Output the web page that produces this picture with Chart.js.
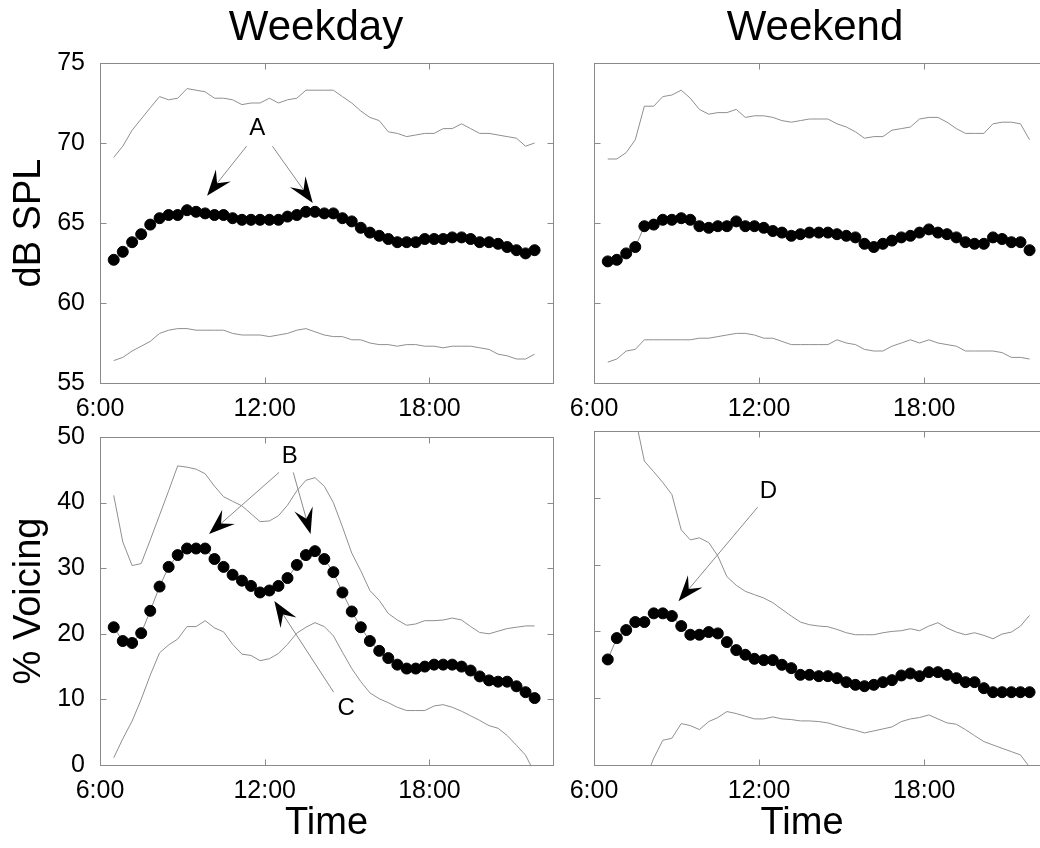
<!DOCTYPE html>
<html>
<head>
<meta charset="utf-8">
<script src="https://cdn.jsdelivr.net/npm/chart.js@4.4.1/dist/chart.umd.min.js"></script>
<style>
  html, body { margin: 0; padding: 0; background: #fff; overflow: hidden; }
  #wrap { position: relative; width: 1040px; height: 848px; overflow: hidden; }
  canvas { position: absolute; }
</style>
</head>
<body>
<div id="wrap">
  <canvas id="wdDb" width="640" height="420" style="left:0px;top:0px"></canvas>
  <canvas id="weDb" width="540" height="420" style="left:520px;top:0px"></canvas>
  <canvas id="wdVo" width="570" height="428" style="left:0px;top:420px"></canvas>
  <canvas id="weVo" width="540" height="428" style="left:520px;top:420px"></canvas>
</div>
<script>
// sample times, hours of the day (20 min apart)
const times = [6.5, 6.83, 7.17, 7.5, 7.83, 8.17, 8.5, 8.83, 9.17, 9.5, 9.83, 10.17, 10.5, 10.83, 11.17, 11.5,
  11.83, 12.17, 12.5, 12.83, 13.17, 13.5, 13.83, 14.17, 14.5, 14.83, 15.17, 15.5, 15.83, 16.17, 16.5, 16.83,
  17.17, 17.5, 17.83, 18.17, 18.5, 18.83, 19.17, 19.5, 19.83, 20.17, 20.5, 20.83, 21.17, 21.5, 21.83];
const timeTicks = [6, 12, 18];
const timeLabels = ['6:00', '12:00', '18:00'];
const dbTicks = [55, 60, 65, 70, 75];
const voiceTicks = [0, 10, 20, 30, 40, 50];

// weekday, dB SPL
const wdDbMean = [62.7, 63.2, 63.8, 64.3, 64.9, 65.3, 65.5, 65.5, 65.8, 65.7, 65.6, 65.5, 65.5, 65.3, 65.2, 65.2,
  65.2, 65.2, 65.2, 65.4, 65.5, 65.7, 65.7, 65.6, 65.6, 65.3, 65.1, 64.7, 64.4, 64.2, 64.0, 63.8,
  63.8, 63.8, 64.0, 64.0, 64.0, 64.1, 64.1, 64.0, 63.8, 63.8, 63.7, 63.5, 63.3, 63.1, 63.3];
const wdDbHigh = [69.1, 69.8, 70.8, 71.5, 72.2, 72.9, 72.7, 72.8, 73.4, 73.3, 73.2, 72.8, 72.8, 72.7, 72.4, 72.5,
  72.5, 72.8, 72.5, 72.7, 72.8, 73.3, 73.3, 73.3, 73.3, 72.9, 72.5, 72.0, 71.6, 71.4, 70.7, 70.6,
  70.4, 70.5, 70.6, 70.6, 70.9, 70.9, 71.2, 70.9, 70.6, 70.6, 70.5, 70.4, 70.3, 69.8, 70.0];
const wdDbLow = [56.4, 56.6, 57.0, 57.3, 57.6, 58.1, 58.3, 58.4, 58.4, 58.3, 58.3, 58.3, 58.3, 58.1, 58.0, 58.0,
  58.0, 57.9, 58.0, 58.1, 58.3, 58.4, 58.2, 58.0, 57.9, 57.9, 57.7, 57.7, 57.5, 57.4, 57.4, 57.3,
  57.4, 57.4, 57.3, 57.3, 57.2, 57.3, 57.3, 57.3, 57.2, 57.1, 56.8, 56.7, 56.5, 56.5, 56.8];

// weekend, dB SPL
const weDbMean = [62.6, 62.7, 63.1, 63.5, 64.8, 64.9, 65.2, 65.2, 65.3, 65.2, 64.8, 64.7, 64.8, 64.8, 65.1, 64.8,
  64.8, 64.7, 64.5, 64.4, 64.2, 64.3, 64.4, 64.4, 64.4, 64.3, 64.2, 64.1, 63.7, 63.5, 63.7, 63.9,
  64.1, 64.2, 64.4, 64.6, 64.4, 64.3, 64.1, 63.8, 63.7, 63.7, 64.1, 64.0, 63.8, 63.8, 63.3];
const weDbHigh = [69.0, 69.0, 69.4, 70.2, 72.3, 72.3, 72.9, 73.0, 73.3, 72.8, 72.1, 71.8, 71.9, 71.9, 72.1, 71.6,
  71.7, 71.7, 71.6, 71.4, 71.3, 71.4, 71.5, 71.5, 71.5, 71.2, 71.0, 70.7, 70.3, 70.4, 70.4, 70.8,
  70.9, 71.0, 71.5, 71.6, 71.6, 71.3, 70.9, 70.6, 70.6, 70.6, 71.2, 71.3, 71.3, 71.2, 70.2];
const weDbLow = [56.3, 56.5, 57.0, 57.1, 57.7, 57.7, 57.7, 57.7, 57.7, 57.7, 57.8, 57.8, 57.9, 58.0, 58.1, 58.1,
  58.0, 57.8, 57.8, 57.6, 57.4, 57.4, 57.4, 57.4, 57.4, 57.7, 57.5, 57.4, 57.1, 57.0, 57.0, 57.3,
  57.5, 57.7, 57.5, 57.7, 57.5, 57.4, 57.3, 57.0, 57.0, 57.0, 57.0, 56.9, 56.6, 56.6, 56.5];

// weekday, % voicing
const wdVoMean = [21.0, 18.9, 18.6, 20.1, 23.5, 27.2, 30.2, 32.0, 33.0, 33.0, 33.0, 31.4, 30.2, 29.0, 28.1, 27.3,
  26.3, 26.6, 27.3, 28.5, 30.5, 32.0, 32.6, 31.4, 29.4, 26.3, 23.4, 21.0, 18.9, 17.4, 16.3, 15.3,
  14.7, 14.7, 15.0, 15.3, 15.3, 15.3, 15.0, 14.4, 13.5, 12.9, 12.7, 12.7, 12.0, 11.1, 10.2];
const wdVoHigh = [41.1, 34.0, 30.4, 30.7, 34.3, 38.1, 41.8, 45.6, 45.4, 45.1, 44.4, 42.5, 40.9, 40.2, 39.5, 38.3,
  37.1, 37.2, 38.0, 39.6, 41.8, 43.4, 43.8, 42.5, 40.0, 36.3, 32.3, 29.6, 26.6, 25.1, 23.1, 22.1,
  21.3, 21.5, 22.0, 22.0, 22.1, 22.4, 22.1, 21.1, 20.2, 20.0, 20.4, 20.8, 21.0, 21.2, 21.2];
const wdVoLow = [1.1, 4.0, 6.7, 10.0, 13.7, 17.1, 18.3, 19.2, 21.1, 21.1, 22.0, 20.9, 20.3, 18.4, 16.9, 16.7,
  15.9, 16.2, 17.0, 18.4, 20.1, 21.0, 21.7, 21.1, 19.7, 17.2, 14.7, 12.7, 11.0, 10.1, 9.5, 8.8,
  8.3, 8.3, 8.3, 9.0, 9.2, 8.8, 8.2, 7.5, 6.8, 6.0, 5.6, 4.5, 3.0, 1.5, -1.2];

// weekend, % voicing
const weVoMean = [15.8, 19.0, 20.2, 21.4, 21.4, 22.7, 22.7, 22.3, 20.8, 19.5, 19.5, 19.9, 19.7, 18.4, 17.2, 16.5,
  15.9, 15.7, 15.7, 15.0, 14.5, 13.5, 13.5, 13.3, 13.3, 13.0, 12.4, 12.0, 11.8, 12.0, 12.4, 12.7,
  13.4, 13.7, 13.3, 13.9, 13.9, 13.5, 13.0, 12.4, 12.4, 11.5, 10.9, 10.9, 10.9, 10.9, 10.9];
const weVoHigh = [null, null, null, 52.0, 45.5, 43.9, 42.3, 40.5, 35.2, 33.7, 34.0, 33.3, 31.3, 28.2, 26.9, 26.0,
  25.5, 25.0, 24.3, 23.3, 22.3, 21.4, 21.0, 20.8, 20.7, 20.3, 19.8, 19.5, 19.5, 19.5, 19.8, 20.0,
  20.1, 20.4, 20.1, 20.8, 21.3, 20.5, 19.9, 19.5, 19.8, 19.4, 18.9, 19.6, 19.9, 20.8, 22.4];
const weVoLow = [null, null, null, null, -2.5, 1.0, 3.7, 4.0, 6.2, 5.9, 5.3, 6.5, 7.1, 8.0, 7.7, 7.3,
  6.9, 6.9, 7.2, 6.9, 6.8, 6.6, 6.6, 6.5, 6.3, 5.9, 5.5, 5.2, 4.8, 5.1, 5.4, 5.7,
  6.5, 6.9, 7.1, 7.5, 6.9, 6.3, 6.1, 5.3, 4.4, 3.5, 3.0, 2.5, 2.0, 1.5, -0.3];

// letter call-outs, in data units: [label position], arrows [from, tip]
const notesWdDb = [{ text: 'A', at: [11.73, 70.9], arrows: [[[11.34, 69.8], [9.9, 66.7]], [[12.28, 69.8], [13.75, 66.25]]] }];
const notesWdVo = [
  { text: 'B', at: [12.91, 47.1], arrows: [[[12.52, 44.6], [9.97, 35.2]], [[13.04, 44.6], [13.67, 35.2]]] },
  { text: 'C', at: [14.97, 8.7], arrows: [[[14.51, 11.1], [12.35, 25.0]]] }
];
const notesWeVo = [{ text: 'D', at: [12.34, 41.0], arrows: [[[11.95, 38.6], [9.07, 24.5]]] }];

const FONT = "'Liberation Sans', Arial, Helvetica, sans-serif";
Chart.defaults.font.family = FONT;
Chart.defaults.color = '#000';

function pts(vals) {
  return times.map((t, i) => ({ x: t, y: vals[i] }));
}

// box round the plot plus short ticks pointing inward on all four sides
const framePlugin = {
  id: 'frame',
  beforeDatasetsDraw(chart) {
    const { ctx, chartArea: a } = chart;
    const xs = chart.scales.x, ys = chart.scales.y;
    const L = Math.round(a.left) + 0.5, R = Math.round(a.right) + 0.5;
    const T = Math.round(a.top) + 0.5, B = Math.round(a.bottom) + 0.5;
    ctx.save();
    ctx.strokeStyle = '#8a8a8a';
    ctx.lineWidth = 1;
    ctx.strokeRect(L, T, R - L, B - T);
    ctx.beginPath();
    xs.ticks.forEach(t => {
      const p = Math.round(xs.getPixelForValue(t.value)) + 0.5;
      ctx.moveTo(p, B); ctx.lineTo(p, B - 6);
      ctx.moveTo(p, T); ctx.lineTo(p, T + 6);
    });
    ys.ticks.forEach(t => {
      const p = Math.round(ys.getPixelForValue(t.value)) + 0.5;
      ctx.moveTo(L, p); ctx.lineTo(L + 6, p);
      ctx.moveTo(R, p); ctx.lineTo(R - 6, p);
    });
    ctx.stroke();
    ctx.restore();
  }
};

function drawArrow(ctx, x0, y0, x1, y1) {
  const dx = x1 - x0, dy = y1 - y0;
  const len = Math.hypot(dx, dy);
  const ux = dx / len, uy = dy / len, nx = -uy, ny = ux;
  const L = 26, W = 9.5, N = 10;
  ctx.strokeStyle = '#8a8a8a';
  ctx.lineWidth = 1;
  ctx.beginPath();
  ctx.moveTo(x0, y0);
  ctx.lineTo(x1 - ux * (L - N), y1 - uy * (L - N));
  ctx.stroke();
  ctx.fillStyle = '#000';
  ctx.beginPath();
  ctx.moveTo(x1, y1);
  ctx.lineTo(x1 - ux * L + nx * W, y1 - uy * L + ny * W);
  ctx.lineTo(x1 - ux * (L - N), y1 - uy * (L - N));
  ctx.lineTo(x1 - ux * L - nx * W, y1 - uy * L - ny * W);
  ctx.closePath();
  ctx.fill();
}

function notesPlugin(items) {
  return {
    id: 'notes',
    afterDatasetsDraw(chart) {
      const { ctx } = chart;
      const xs = chart.scales.x, ys = chart.scales.y;
      ctx.save();
      items.forEach(n => {
        n.arrows.forEach(([from, tip]) => {
          drawArrow(ctx, xs.getPixelForValue(from[0]), ys.getPixelForValue(from[1]),
            xs.getPixelForValue(tip[0]), ys.getPixelForValue(tip[1]));
        });
        ctx.fillStyle = '#000';
        ctx.font = '24px ' + FONT;
        ctx.textAlign = 'center';
        ctx.textBaseline = 'middle';
        ctx.fillText(n.text, xs.getPixelForValue(n.at[0]), ys.getPixelForValue(n.at[1]));
      });
      ctx.restore();
    }
  };
}

const bigFont = { size: 38, lineHeight: 1, weight: 'normal' };
const headFont = { size: 42, lineHeight: 1, weight: 'normal' };

function makePanel(id, p) {
  const scales = {
    x: {
      type: 'linear', min: 6, max: 22.5,
      grid: { display: false }, border: { display: false },
      afterBuildTicks: s => { s.ticks = timeTicks.map(v => ({ value: v })); },
      ticks: {
        autoSkip: false, maxRotation: 0, padding: 3, font: { size: 25, lineHeight: 1.2 },
        callback: v => timeLabels[timeTicks.indexOf(v)]
      },
      title: p.xTitle ? { display: true, text: p.xTitle, font: bigFont, padding: { top: 0, bottom: 5 } } : { display: false },
      afterFit: s => { s.height = p.xh; }
    },
    y: {
      type: 'linear', min: p.yTicks[0], max: p.yTicks[p.yTicks.length - 1],
      grid: { display: false }, border: { display: false },
      afterBuildTicks: s => { s.ticks = p.yTicks.map(v => ({ value: v })); },
      ticks: { display: !!p.yTitle, padding: 7, font: { size: 25, lineHeight: 0.8 }, callback: v => String(v) },
      title: p.yTitle ? { display: true, text: p.yTitle, font: bigFont, padding: { top: 11, bottom: 0 } } : { display: false },
      afterFit: s => { s.width = p.yw; }
    }
  };
  if (p.spacer) {
    // empty right-hand box so the panel heading sits where the original has it
    scales.sp = {
      type: 'linear', position: 'right', grid: { display: false }, border: { display: false },
      ticks: { display: false }, afterFit: s => { s.width = p.spacer; }
    };
  }
  if (p.timeBelow) {
    scales.tt = {
      type: 'linear', position: 'bottom', fullSize: true, weight: 10,
      grid: { display: false }, border: { display: false }, ticks: { display: false },
      title: { display: true, text: p.timeBelow, font: bigFont, padding: { top: 0, bottom: 5 } },
      afterFit: s => { s.height = 40; }
    };
  }
  return new Chart(document.getElementById(id), {
    type: 'line',
    data: {
      datasets: [
        { data: pts(p.mean), borderColor: '#8a8a8a', borderWidth: 1, pointRadius: 5.5,
          pointBackgroundColor: '#000', pointBorderColor: '#000', pointBorderWidth: 1 },
        { data: pts(p.high), borderColor: '#8f8f8f', borderWidth: 1, pointRadius: 0 },
        { data: pts(p.low), borderColor: '#8f8f8f', borderWidth: 1, pointRadius: 0 }
      ]
    },
    options: {
      responsive: false,
      animation: false,
      devicePixelRatio: 1,
      events: [],
      layout: { padding: p.pad },
      scales,
      plugins: {
        legend: { display: false },
        tooltip: { enabled: false },
        title: p.title ? { display: true, text: p.title, fullSize: true, font: headFont, color: '#000',
          padding: { top: 7, bottom: 14 } } : { display: false }
      }
    },
    plugins: [framePlugin, notesPlugin(p.notes || [])]
  });
}

makePanel('wdDb', {
  mean: wdDbMean, high: wdDbHigh, low: wdDbLow, yTicks: dbTicks,
  title: 'Weekday', yTitle: 'dB SPL', yw: 100, xh: 37, spacer: 79,
  pad: { left: 0, top: 0, right: 8, bottom: 0 }, notes: notesWdDb
});
makePanel('weDb', {
  mean: weDbMean, high: weDbHigh, low: weDbLow, yTicks: dbTicks,
  title: 'Weekend', yw: 12, xh: 37,
  pad: { left: 62, top: 0, right: 12, bottom: 0 }
});
makePanel('wdVo', {
  mean: wdVoMean, high: wdVoHigh, low: wdVoLow, yTicks: voiceTicks,
  yTitle: '% Voicing', xTitle: 'Time', yw: 100, xh: 83,
  pad: { left: 0, top: 11, right: 17, bottom: 0 }, notes: notesWdVo
});
makePanel('weVo', {
  mean: weVoMean, high: weVoHigh, low: weVoLow, yTicks: voiceTicks,
  timeBelow: 'Time', yw: 38, xh: 43,
  pad: { left: 36, top: 11, right: 12, bottom: 0 }, notes: notesWeVo
});
</script>
</body>
</html>
